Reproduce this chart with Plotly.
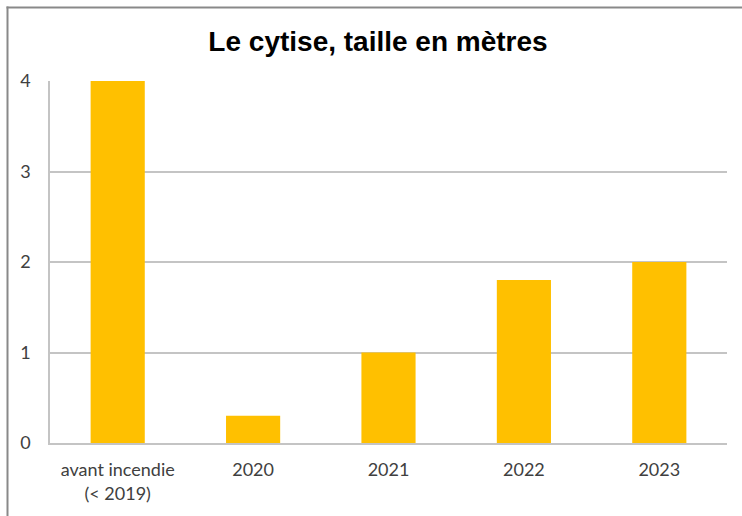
import plotly.graph_objects as go

categories = ["avant incendie<br>(< 2019)", "2020", "2021", "2022", "2023"]
values = [4, 0.3, 1, 1.8, 2]
y_ticks = [0, 1, 2, 3, 4]

W, H = 742, 516
L, R, T, B = 50, 15, 81, 73
pw, ph = W - L - R, H - T - B

fig = go.Figure(go.Bar(x=categories, y=values, marker=dict(color="#FFC000", line=dict(width=0))))

def px_x(x):
    return (x - L) / pw

def px_y(y):
    return (H - B - y) / ph

fig.update_layout(
    width=W, height=H,
    margin=dict(l=L, r=R, t=T, b=B),
    paper_bgcolor="white", plot_bgcolor="white",
    bargap=0.6,
    showlegend=False,
    title=dict(text="<b>Le cytise, taille en mètres</b>", x=(378) / W, xanchor="center",
               y=1 - 41 / H, yanchor="middle",
               font=dict(family="Liberation Sans", size=28, color="black")),
    font=dict(family="Lato", size=18, color="#404040"),
    xaxis=dict(showline=True, linecolor="#C4C4C4", linewidth=1.5, ticks="",
               showgrid=False, ticklabelstandoff=10),
    yaxis=dict(range=[0, 4], tickvals=y_ticks, showgrid=True, gridcolor="#C4C4C4", gridwidth=1.5,
               showline=True, linecolor="#C4C4C4", linewidth=1.5, ticks="", ticklen=0,
               zeroline=False, ticklabelstandoff=14),
    shapes=[
        dict(type="line", xref="paper", yref="paper", x0=px_x(6.5), x1=px_x(760), y0=px_y(7.5), y1=px_y(7.5),
             line=dict(color="#898989", width=2)),
        dict(type="line", xref="paper", yref="paper", x0=px_x(7.5), x1=px_x(7.5), y0=px_y(6.5), y1=px_y(530),
             line=dict(color="#898989", width=2)),
    ],
)

fig.write_html("out.html", post_script="document.body.style.margin='0px';",
               config={"displayModeBar": False})
